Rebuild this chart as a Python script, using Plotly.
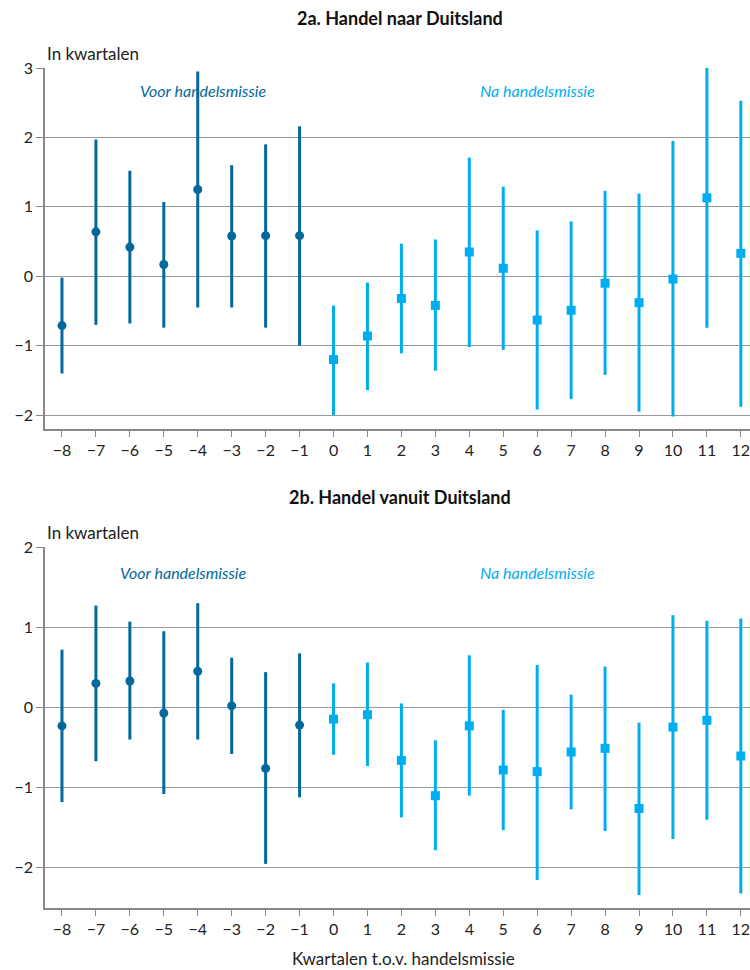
import plotly.graph_objects as go

# ---- data ----
quarters_before = [-8, -7, -6, -5, -4, -3, -2, -1]
quarters_after = [0, 1, 2, 3, 4, 5, 6, 7, 8, 9, 10, 11, 12]

# 2a. Handel naar Duitsland
a_before_est = [-0.71, 0.64, 0.42, 0.17, 1.25, 0.58, 0.585, 0.585]
a_before_hi = [-0.02, 1.97, 1.52, 1.07, 2.95, 1.60, 1.90, 2.16]
a_before_lo = [-1.40, -0.70, -0.68, -0.74, -0.45, -0.45, -0.74, -1.00]
a_after_est = [-1.20, -0.86, -0.32, -0.42, 0.35, 0.115, -0.63, -0.49, -0.10, -0.38, -0.04, 1.13, 0.33]
a_after_hi = [-0.42, -0.09, 0.47, 0.53, 1.71, 1.29, 0.66, 0.79, 1.23, 1.19, 1.95, 3.00, 2.53]
a_after_lo = [-2.00, -1.64, -1.11, -1.36, -1.02, -1.06, -1.92, -1.77, -1.42, -1.95, -2.02, -0.74, -1.88]

# 2b. Handel vanuit Duitsland
b_before_est = [-0.23, 0.30, 0.33, -0.07, 0.45, 0.02, -0.76, -0.22]
b_before_hi = [0.72, 1.27, 1.07, 0.95, 1.30, 0.62, 0.44, 0.675]
b_before_lo = [-1.18, -0.67, -0.40, -1.08, -0.40, -0.58, -1.95, -1.12]
b_after_est = [-0.145, -0.09, -0.66, -1.10, -0.23, -0.78, -0.80, -0.555, -0.51, -1.26, -0.245, -0.16, -0.605]
b_after_hi = [0.30, 0.56, 0.05, -0.41, 0.65, -0.03, 0.53, 0.16, 0.51, -0.19, 1.15, 1.08, 1.11]
b_after_lo = [-0.59, -0.73, -1.37, -1.78, -1.10, -1.53, -2.15, -1.27, -1.54, -2.34, -1.64, -1.40, -2.32]

x_ticks = list(range(-8, 13))
DARK = "#04689b"
LIGHT = "#00aeef"
FONT = "Lato"

fig = go.Figure()


def add_series(x, est, hi, lo, color, symbol, xa, ya):
    fig.add_trace(go.Scatter(
        x=x, y=est, mode="markers", xaxis=xa, yaxis=ya,
        marker=dict(color=color, size=9, symbol=symbol),
        error_y=dict(type="data", symmetric=False,
                     array=[h - e for h, e in zip(hi, est)],
                     arrayminus=[e - l for e, l in zip(est, lo)],
                     color=color, thickness=3, width=0),
        showlegend=False, hoverinfo="skip"))


add_series(quarters_before, a_before_est, a_before_hi, a_before_lo, DARK, "circle", "x", "y")
add_series(quarters_after, a_after_est, a_after_hi, a_after_lo, LIGHT, "square", "x", "y")
add_series(quarters_before, b_before_est, b_before_hi, b_before_lo, DARK, "circle", "x2", "y2")
add_series(quarters_after, b_after_est, b_after_hi, b_after_lo, LIGHT, "square", "x2", "y2")

H = 970.0
PW = 705.0


def dom(top_px, bot_px):
    return [1 - bot_px / H, 1 - top_px / H]


def px_x(px):
    return (px - 45) / PW


xcommon = dict(range=[-8.5, 12.27], tickvals=x_ticks, ticks="outside", ticklen=6,
               tickcolor="#888", showline=True, linecolor="#888", linewidth=1.5,
               showgrid=False, zeroline=False, fixedrange=True, automargin=False,
               ticklabeloverflow="allow",
               tickfont=dict(family=FONT, size=16, color="#222"))
ycommon = dict(ticks="outside", ticklen=7, tickcolor="#888", showline=True,
               linecolor="#888", linewidth=1.5, showgrid=True, gridcolor="#999",
               gridwidth=1, zeroline=False, fixedrange=True, automargin=False,
               ticklabeloverflow="allow",
               tickfont=dict(family=FONT, size=16, color="#222"))

fig.update_layout(
    template="none",
    width=750, height=970,
    margin=dict(l=45, r=0, t=0, b=0, pad=0),
    paper_bgcolor="white", plot_bgcolor="white",
    xaxis=dict(domain=[0, 1], anchor="y", **xcommon),
    yaxis=dict(domain=dom(68, 429), anchor="x", range=[-2.2, 3],
               tickvals=[-2, -1, 0, 1, 2, 3], **ycommon),
    xaxis2=dict(domain=[0, 1], anchor="y2", **xcommon),
    yaxis2=dict(domain=dom(547, 908), anchor="x2", range=[-2.5, 2],
                tickvals=[-2, -1, 0, 1, 2], **ycommon),
)

fig.add_annotation(text="<b>2a. Handel naar Duitsland</b>", xref="paper", yref="paper",
                   x=px_x(400), y=1 - 18 / H, showarrow=False,
                   font=dict(family=FONT, size=18, color="#111", weight=900),
                   xanchor="center", yanchor="middle")
fig.add_annotation(text="<b>2b. Handel vanuit Duitsland</b>", xref="paper", yref="paper",
                   x=px_x(400), y=1 - 497 / H, showarrow=False,
                   font=dict(family=FONT, size=18, color="#111", weight=900),
                   xanchor="center", yanchor="middle")
for ypx in (53, 532):
    fig.add_annotation(text="In kwartalen", xref="paper", yref="paper",
                       x=0, y=1 - ypx / H, showarrow=False, xanchor="left", yanchor="middle",
                       font=dict(family=FONT, size=17, color="#222"))
fig.add_annotation(text="Kwartalen t.o.v. handelsmissie", xref="paper", yref="paper",
                   x=px_x(404), y=1 - 958 / H, showarrow=False,
                   xanchor="center", yanchor="middle",
                   font=dict(family=FONT, size=17, color="#222"))
# period labels
fig.add_annotation(text="<i>Voor handelsmissie</i>", xref="x", yref="y", x=-3.86, y=2.68,
                   showarrow=False, font=dict(family=FONT, size=16, color=DARK))
fig.add_annotation(text="<i>Na handelsmissie</i>", xref="x", yref="y", x=6.0, y=2.68,
                   showarrow=False, font=dict(family=FONT, size=16, color=LIGHT))
fig.add_annotation(text="<i>Voor handelsmissie</i>", xref="x2", yref="y2", x=-4.42, y=1.68,
                   showarrow=False, font=dict(family=FONT, size=16, color=DARK))
fig.add_annotation(text="<i>Na handelsmissie</i>", xref="x2", yref="y2", x=6.0, y=1.68,
                   showarrow=False, font=dict(family=FONT, size=16, color=LIGHT))

fig.write_html("out.html", config={"displayModeBar": False},
               post_script="document.body.style.margin='0px';")
